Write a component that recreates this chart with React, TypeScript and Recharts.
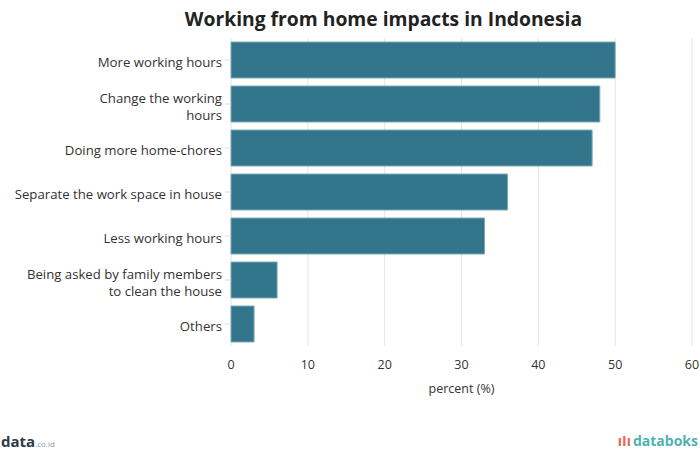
import { BarChart, Bar, XAxis, YAxis, CartesianGrid } from 'recharts';

const impacts = [
  'More working hours',
  'Change the working\nhours',
  'Doing more home-chores',
  'Separate the work space in house',
  'Less working hours',
  'Being asked by family members\nto clean the house',
  'Others',
];
const percents = [50, 48, 47, 36, 33, 6, 3];
const xTicks = [0, 10, 20, 30, 40, 50, 60];

const rows = impacts.map((name, i) => ({ name, value: percents[i] }));

const FONT = '"Open Sans", Lato, sans-serif';
const LINE_GAP = 17;

function ImpactTick({ x, y, payload }: any) {
  const lines = String(payload.value).split('\n');
  const startY = y + 2 - ((lines.length - 1) * LINE_GAP) / 2;
  return (
    <g>
      <line x1={x + 2} x2={x + 8} y1={y} y2={y} stroke='#dddddd' />
      {lines.map((l, i) => (
        <text
          key={i}
          x={x - 1}
          y={startY + i * LINE_GAP}
          textAnchor='end'
          dominantBaseline='central'
          fontFamily={FONT}
          fontSize={13.2}
          fill='#333333'
        >
          {l}
        </text>
      ))}
    </g>
  );
}

export default function App() {
  return (
    <div
      style={{
        position: 'absolute',
        left: 0,
        top: 0,
        width: 700,
        height: 451,
        background: '#fff',
        overflow: 'hidden',
        fontFamily: FONT,
      }}
    >
      <div
        style={{
          position: 'absolute',
          left: 0,
          width: 767,
          top: 5,
          textAlign: 'center',
          fontSize: 19.3,
          fontWeight: 700,
          color: '#222',
        }}
      >
        Working from home impacts in Indonesia
      </div>
      <BarChart
        width={700}
        height={451}
        data={rows}
        layout='vertical'
        margin={{ top: 38, right: 8, bottom: 45, left: 0 }}
        barCategoryGap={4}
      >
        <CartesianGrid horizontal={false} stroke='#e6e6e6' />
        <XAxis
          type='number'
          domain={[0, 60]}
          ticks={xTicks}
          axisLine={false}
          tickLine={false}
          height={60}
          tick={{ fontFamily: FONT, fontSize: 12.5, fill: '#333' }}
          tickMargin={8}
          label={{
            value: 'percent (%)',
            position: 'insideTop',
            offset: 38,
            style: { fontFamily: FONT, fontSize: 12.5, fill: '#333' },
          }}
          interval={0}
        />
        <YAxis
          type='category'
          dataKey='name'
          width={231}
          axisLine={false}
          tickLine={false}
          tick={<ImpactTick />}
          interval={0}
        />
        <Bar
          dataKey='value'
          fill='#33758a'
          stroke='#7fa9b7'
          strokeWidth={1}
          isAnimationActive={false}
        />
      </BarChart>
      <div
        style={{
          position: 'absolute',
          left: 1,
          top: 431,
          fontSize: 15,
          fontWeight: 700,
          color: '#2b3a4a',
        }}
      >
        data<span style={{ fontSize: 8, fontWeight: 400, color: '#8a96a3' }}>.co.id</span>
      </div>
      <div
        style={{
          position: 'absolute',
          right: 2,
          top: 431,
          fontSize: 14,
          fontWeight: 700,
          color: '#4fb3b0',
          whiteSpace: 'nowrap',
        }}
      >
        <span style={{ color: '#e8674f', marginRight: 2 }}>ıIı</span>databoks
      </div>
    </div>
  );
}
